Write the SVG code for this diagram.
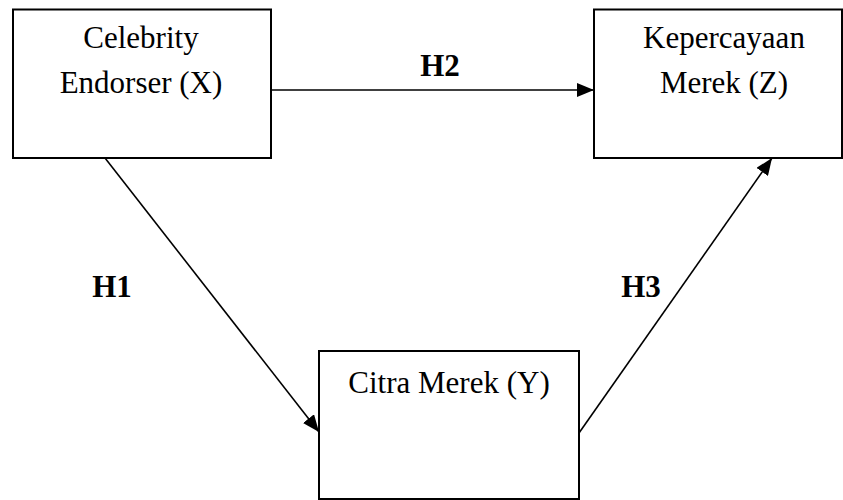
<svg xmlns="http://www.w3.org/2000/svg" width="843" height="500" viewBox="0 0 843 500">
<style>
.box{fill:#fff;stroke:#000;stroke-width:2}
.t{font-family:"Liberation Serif","Times New Roman",serif;font-size:31px;fill:#000;text-anchor:middle}
.h{font-family:"Liberation Serif","Times New Roman",serif;font-size:31px;font-weight:bold;fill:#000;text-anchor:middle}
.c{stroke:#000;stroke-width:1.6;fill:none}
</style>
<defs>
<marker id="arr" markerUnits="userSpaceOnUse" markerWidth="18" markerHeight="14" refX="17" refY="7" orient="auto">
<path d="M0,0 L17,7 L0,14 Z" fill="#000"/>
</marker>
</defs>
<rect width="843" height="500" fill="#fff"/>
<g id="connectors">
<line class="c" x1="271" y1="90" x2="594" y2="90" marker-end="url(#arr)"/>
<line class="c" x1="105" y1="158" x2="319" y2="432" marker-end="url(#arr)"/>
<line class="c" x1="579" y1="433" x2="772" y2="158" marker-end="url(#arr)"/>
</g>
<g id="node-x">
<rect class="box" x="13" y="9.5" width="258" height="148.5"/>
<text class="t" x="141" y="48">Celebrity</text>
<text class="t" x="141" y="93">Endorser (X)</text>
</g>
<g id="node-z">
<rect class="box" x="594" y="9.5" width="248" height="148.5"/>
<text class="t" x="724" y="48">Kepercayaan</text>
<text class="t" x="724" y="93">Merek (Z)</text>
</g>
<g id="node-y">
<rect class="box" x="319" y="351" width="260" height="148"/>
<text class="t" x="449" y="393">Citra Merek (Y)</text>
</g>
<g id="labels">
<text class="h" x="440" y="76">H2</text>
<text class="h" x="112" y="297">H1</text>
<text class="h" x="641" y="297">H3</text>
</g>
</svg>
